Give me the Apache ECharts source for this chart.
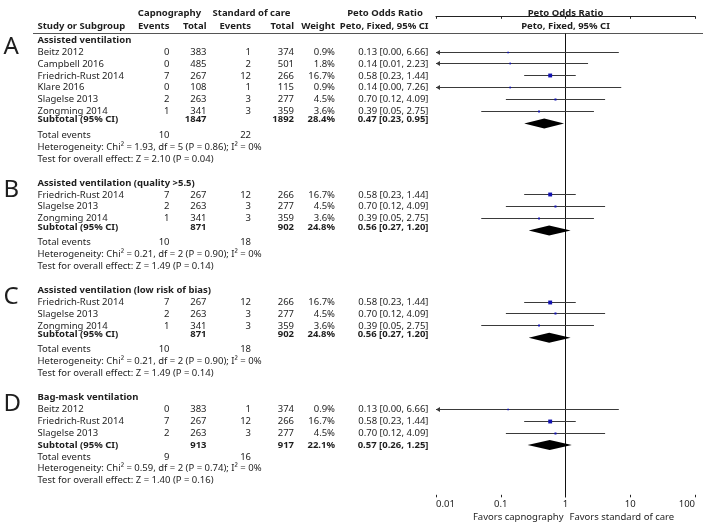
<!DOCTYPE html>
<html><head><meta charset="utf-8">
<script src="https://cdn.jsdelivr.net/npm/echarts@6/dist/echarts.min.js"></script>
<style>html,body{margin:0;padding:0;background:#fff}#c{width:708px;height:525px}</style>
</head><body><div id="c"></div>
<script>
// ---------------- DATA ----------------
const sectionLetters = ['A', 'B', 'C', 'D'];
const sectionTitles = ['Assisted ventilation', 'Assisted ventilation (quality >5.5)', 'Assisted ventilation (low risk of bias)', 'Bag-mask ventilation'];
const studyNames = [
  ['Beitz 2012', 'Campbell 2016', 'Friedrich-Rust 2014', 'Klare 2016', 'Slagelse 2013', 'Zongming 2014'],
  ['Friedrich-Rust 2014', 'Slagelse 2013', 'Zongming 2014'],
  ['Friedrich-Rust 2014', 'Slagelse 2013', 'Zongming 2014'],
  ['Beitz 2012', 'Friedrich-Rust 2014', 'Slagelse 2013']
];
const capEvents = [[0, 0, 7, 0, 2, 1], [7, 2, 1], [7, 2, 1], [0, 7, 2]];
const capTotal = [[383, 485, 267, 108, 263, 341], [267, 263, 341], [267, 263, 341], [383, 267, 263]];
const socEvents = [[1, 2, 12, 1, 3, 3], [12, 3, 3], [12, 3, 3], [1, 12, 3]];
const socTotal = [[374, 501, 266, 115, 277, 359], [266, 277, 359], [266, 277, 359], [374, 266, 277]];
const weights = [[0.9, 1.8, 16.7, 0.9, 4.5, 3.6], [16.7, 4.5, 3.6], [16.7, 4.5, 3.6], [0.9, 16.7, 4.5]];
const orValue = [[0.13, 0.14, 0.58, 0.14, 0.70, 0.39], [0.58, 0.70, 0.39], [0.58, 0.70, 0.39], [0.13, 0.58, 0.70]];
const ciLower = [[0.00, 0.01, 0.23, 0.00, 0.12, 0.05], [0.23, 0.12, 0.05], [0.23, 0.12, 0.05], [0.00, 0.23, 0.12]];
const ciUpper = [[6.66, 2.23, 1.44, 7.26, 4.09, 2.75], [1.44, 4.09, 2.75], [1.44, 4.09, 2.75], [6.66, 1.44, 4.09]];

const subCapTotal = [1847, 871, 871, 913];
const subSocTotal = [1892, 902, 902, 917];
const subWeight = [28.4, 24.8, 24.8, 22.1];
const subOR = [0.47, 0.56, 0.56, 0.57];
const subLower = [0.23, 0.27, 0.27, 0.26];
const subUpper = [0.95, 1.20, 1.20, 1.25];
const totalCapEvents = [10, 10, 10, 9];
const totalSocEvents = [22, 18, 18, 16];
const hetChi2 = [1.93, 0.21, 0.21, 0.59];
const hetDf = [5, 2, 2, 2];
const hetP = [0.86, 0.90, 0.90, 0.74];
const hetI2 = [0, 0, 0, 0];
const effectZ = [2.10, 1.49, 1.49, 1.40];
const effectP = [0.04, 0.14, 0.14, 0.16];

const tickLabels = ['0.01', '0.1', '1', '10', '100'];
const favorsLabels = ['Favors capnography', 'Favors standard of care'];
const headerGroups = ['Capnography', 'Standard of care', 'Peto Odds Ratio'];
const headerCols = ['Study or Subgroup', 'Events', 'Total', 'Events', 'Total', 'Weight', 'Peto, Fixed, 95% CI'];
const plotHeader = ['Peto Odds Ratio', 'Peto, Fixed, 95% CI'];

// ---------------- LAYOUT / STYLE ----------------
const FONT_FAMILY = '"Noto Sans", "Open Sans", sans-serif';
const FS = 9.5;
const TEXT_COLOR = '#1e1e1e';
const CI_COLOR = '#3a3a3a';
const POINT_COLOR = '#1212b0';
const COL = { name: 37.5, capEv: 169.5, capTot: 206.5, socEv: 251, socTot: 294, weight: 335, ci: 428.5,
  capHead: 169.5, socHead: 251.5, ciHead: 385, letter: 3.5, ruleL: 33, ruleR: 703 };
const ROW = { head1: -0.23, head2: 0.8, rule: 1.445, axis: 40.4, favors: 42.1 };
const SUBTEXT_SHIFT = [-0.32, -0.32, -0.32, 0];
const ROW_PX = 11.906, TOP_PX = 16.3;

const X_MIN = Number(tickLabels[0]);
const X_MAX = Number(tickLabels[tickLabels.length - 1]);

const layout = [];
let r = 2;
for (let s = 0; s < sectionTitles.length; s++) {
  const n = studyNames[s].length;
  const L = { heading: r, studies: [], diamond: r + n + 1, subText: r + n + 1 + SUBTEXT_SHIFT[s],
    total: r + n + 2, het: r + n + 3, test: r + n + 4 };
  for (let i = 0; i < n; i++) L.studies.push(r + 1 + i);
  layout.push(L);
  r += n + 6;
}

// ---------------- TEXT ITEMS ----------------
const texts = [];
function T(text, row, x, align, opt) { texts.push(Object.assign({ text: String(text), row, x, align, bold: false, size: FS }, opt || {})); }
const f2 = v => v.toFixed(2);
const ciText = (o, l, h) => `${f2(o)} [${f2(l)}, ${f2(h)}]`;

T(headerGroups[0], ROW.head1, COL.capHead, 'center', { bold: true });
T(headerGroups[1], ROW.head1, COL.socHead, 'center', { bold: true });
T(headerGroups[2], ROW.head1, COL.ciHead, 'center', { bold: true });
T(headerCols[0], ROW.head2, COL.name, 'left', { bold: true });
T(headerCols[1], ROW.head2, COL.capEv, 'right', { bold: true });
T(headerCols[2], ROW.head2, COL.capTot, 'right', { bold: true });
T(headerCols[3], ROW.head2, COL.socEv, 'right', { bold: true });
T(headerCols[4], ROW.head2, COL.socTot, 'right', { bold: true });
T(headerCols[5], ROW.head2, COL.weight, 'right', { bold: true });
T(headerCols[6], ROW.head2, COL.ci, 'right', { bold: true });
T(plotHeader[0], ROW.head1, 0, 'center', { bold: true, plotX: 1 });
T(plotHeader[1], ROW.head2, 0, 'center', { bold: true, plotX: 1 });
T(favorsLabels[0], ROW.favors, -2, 'right', { plotX: 1 });
T(favorsLabels[1], ROW.favors, 4, 'left', { plotX: 1 });

for (let s = 0; s < sectionTitles.length; s++) {
  const L = layout[s];
  T(sectionLetters[s], L.heading + 0.6, COL.letter, 'left', { size: 24 });
  T(sectionTitles[s], L.heading, COL.name, 'left', { bold: true });
  studyNames[s].forEach((nm, i) => {
    const row = L.studies[i];
    T(nm, row, COL.name, 'left');
    T(capEvents[s][i], row, COL.capEv, 'right');
    T(capTotal[s][i], row, COL.capTot, 'right');
    T(socEvents[s][i], row, COL.socEv, 'right');
    T(socTotal[s][i], row, COL.socTot, 'right');
    T(weights[s][i].toFixed(1) + '%', row, COL.weight, 'right');
    T(ciText(orValue[s][i], ciLower[s][i], ciUpper[s][i]), row, COL.ci, 'right');
  });
  T('Subtotal (95% CI)', L.subText, COL.name, 'left', { bold: true });
  T(subCapTotal[s], L.subText, COL.capTot, 'right', { bold: true });
  T(subSocTotal[s], L.subText, COL.socTot, 'right', { bold: true });
  T(subWeight[s].toFixed(1) + '%', L.subText, COL.weight, 'right', { bold: true });
  T(ciText(subOR[s], subLower[s], subUpper[s]), L.subText, COL.ci, 'right', { bold: true });
  T('Total events', L.total, COL.name, 'left');
  T(totalCapEvents[s], L.total, COL.capEv, 'right');
  T(totalSocEvents[s], L.total, COL.socEv, 'right');
  T(`Heterogeneity: Chi\u00B2 = ${f2(hetChi2[s])}, df = ${hetDf[s]} (P = ${f2(hetP[s])}); I\u00B2 = ${hetI2[s]}%`, L.het, COL.name, 'left');
  T(`Test for overall effect: Z = ${f2(effectZ[s])} (P = ${f2(effectP[s])})`, L.test, COL.name, 'left');
}

// ---------------- MARK DATA ----------------
const studyData = [];
studyNames.forEach((names, s) => names.forEach((nm, i) => {
  studyData.push([orValue[s][i], ciLower[s][i], ciUpper[s][i], weights[s][i], layout[s].studies[i]]);
}));
const diamondData = subOR.map((o, s) => [o, subLower[s], subUpper[s], layout[s].diamond]);

const crisp = v => Math.round(v - 0.5) + 0.5;

function renderText(params, api) {
  const t = texts[params.dataIndex];
  const p = api.coord([t.plotX || 1, api.value(1)]);
  const x = t.plotX ? p[0] + t.x : t.x;
  return { type: 'text', style: { x: x, y: p[1], text: t.text, fill: TEXT_COLOR,
    font: (t.bold ? 'bold ' : '') + t.size + 'px ' + FONT_FAMILY, align: t.align, verticalAlign: 'middle' } };
}
function renderStudy(params, api) {
  const o = api.value(0), lo = api.value(1), hi = api.value(2), w = api.value(3), row = api.value(4);
  const clipped = lo <= X_MIN;
  const pLo = api.coord([clipped ? X_MIN : lo, row]);
  const pHi = api.coord([Math.min(hi, X_MAX), row]);
  const pPt = api.coord([o, row]);
  const y = crisp(pLo[1]);
  const side = Math.max(1.7, Math.sqrt(w) * 0.95);
  const ch = [{ type: 'line', shape: { x1: pLo[0], y1: y, x2: pHi[0], y2: y }, style: { stroke: CI_COLOR, lineWidth: 1 } }];
  if (clipped) ch.push({ type: 'polygon', shape: { points: [[pLo[0], y], [pLo[0] + 4, y - 2.5], [pLo[0] + 4, y + 2.5]] }, style: { fill: CI_COLOR } });
  ch.push({ type: 'rect', shape: { x: pPt[0] - side / 2, y: y - side / 2, width: side, height: side }, style: { fill: POINT_COLOR } });
  return { type: 'group', children: ch };
}
function renderDiamond(params, api) {
  const row = api.value(3);
  const pC = api.coord([api.value(0), row]);
  const pL = api.coord([api.value(1), row]);
  const pR = api.coord([api.value(2), row]);
  const y = pC[1], h = 5;
  return { type: 'polygon', shape: { points: [[pL[0], y], [pC[0], y - h], [pR[0], y], [pC[0], y + h]] }, style: { fill: '#000' } };
}
function renderRefLines(params, api) {
  const top = api.coord([1, ROW.rule]);
  const bot = api.coord([1, ROW.axis]);
  const x = crisp(top[0]);
  const yr = crisp(top[1]);
  return { type: 'group', children: [
    { type: 'line', shape: { x1: COL.ruleL, y1: yr, x2: COL.ruleR, y2: yr }, style: { stroke: '#555', lineWidth: 1 } },
    { type: 'line', shape: { x1: x, y1: yr, x2: x, y2: bot[1] }, style: { stroke: '#111', lineWidth: 1 } }
  ] };
}

const chart = echarts.init(document.getElementById('c'), null, { renderer: 'canvas' });
const axisLabelFmt = v => tickLabels[Math.round(Math.log10(v / X_MIN))] || '';
chart.setOption({
  animation: false,
  backgroundColor: '#fff',
  grid: { left: 436, right: 13, top: TOP_PX, height: ROW.axis * ROW_PX },
  xAxis: [
    { type: 'log', logBase: 10, min: X_MIN, max: X_MAX, position: 'bottom', splitNumber: 4,
      axisLine: { show: true, lineStyle: { color: '#222', width: 1 } },
      axisTick: { show: true, length: 2.5, lineStyle: { color: '#222' } },
      axisLabel: { show: true, margin: 2, color: '#222', fontSize: FS, fontFamily: FONT_FAMILY, formatter: axisLabelFmt,
        alignMinLabel: 'left', alignMaxLabel: 'right' },
      splitLine: { show: false } },
    { type: 'log', logBase: 10, min: X_MIN, max: X_MAX, position: 'bottom', splitNumber: 4,
      axisLine: { show: false }, axisTick: { show: true, inside: true, length: 2.5, lineStyle: { color: '#222' } },
      axisLabel: { show: false }, splitLine: { show: false } }
  ],
  yAxis: { type: 'value', inverse: true, min: 0, max: ROW.axis, show: false },
  series: [
    { type: 'custom', clip: false, renderItem: renderRefLines, data: [[1, ROW.rule]], encode: { x: 0, y: 1 }, silent: true, z: 1 },
    { type: 'custom', clip: false, renderItem: renderStudy, data: studyData, encode: { x: 0, y: 4 }, silent: true, z: 2 },
    { type: 'custom', clip: false, renderItem: renderDiamond, data: diamondData, encode: { x: 0, y: 3 }, silent: true, z: 3 },
    { type: 'custom', clip: false, renderItem: renderText, data: texts.map(t => [1, t.row]), encode: { x: 0, y: 1 }, silent: true, z: 4 }
  ]
});
</script></body></html>
